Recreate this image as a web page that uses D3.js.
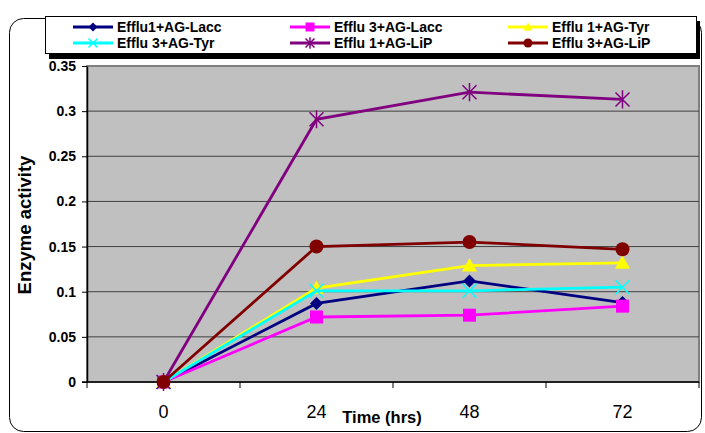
<!DOCTYPE html>
<html>
<head>
<meta charset="utf-8">
<script src="https://cdn.jsdelivr.net/npm/d3@7"></script>
<style>
  body { margin: 0; background: #fff; }
  text { font-family: "Liberation Sans", Arial, sans-serif; }
</style>
</head>
<body>
<svg width="705" height="433"></svg>
<script>
var times = ["0", "24", "48", "72"];
var yTicks = [0, 0.05, 0.1, 0.15, 0.2, 0.25, 0.3, 0.35];
var seriesNames = ["Efflu1+AG-Lacc", "Efflu 3+AG-Lacc", "Efflu 1+AG-Tyr",
                   "Efflu 3+AG-Tyr", "Efflu 1+AG-LiP", "Efflu 3+AG-LiP"];
var lacc1 = [0, 0.087, 0.112, 0.088];
var lacc3 = [0, 0.072, 0.074, 0.084];
var tyr1 = [0, 0.104, 0.129, 0.132];
var tyr3 = [0, 0.101, 0.101, 0.105];
var lip1 = [0, 0.291, 0.321, 0.313];
var lip3 = [0, 0.150, 0.155, 0.147];
var seriesValues = [lacc1, lacc3, tyr1, tyr3, lip1, lip3];
var colors = ["#000080", "#FF00FF", "#FFFF00", "#00FFFF", "#800080", "#800000"];
var markers = ["diamond", "square", "triangle", "x", "star", "circle"];

var svg = d3.select("svg");

// outer chart frame
svg.append("rect")
    .attr("x", 9.5).attr("y", 18.5)
    .attr("width", 692).attr("height", 413)
    .attr("rx", 14).attr("ry", 14)
    .attr("fill", "#fff").attr("stroke", "#000").attr("stroke-width", 1);

var x = d3.scaleBand().domain(times).range([87, 699]);
var y = d3.scaleLinear().domain([0, 0.35]).range([382, 66]);

// plot area
svg.append("rect")
    .attr("x", 87).attr("y", 66)
    .attr("width", 612).attr("height", 316)
    .attr("fill", "#C0C0C0").attr("stroke", "#808080").attr("stroke-width", 2);

svg.append("g")
    .selectAll("line")
    .data(yTicks.slice(1, -1))
    .enter().append("line")
    .attr("x1", 87).attr("x2", 699)
    .attr("y1", function(d) { return y(d); })
    .attr("y2", function(d) { return y(d); })
    .attr("stroke", "#404040").attr("stroke-width", 1);

// y axis
var yAxis = svg.append("g")
    .attr("transform", "translate(87,0)")
    .call(d3.axisLeft(y).tickValues(yTicks).tickSize(5).tickSizeOuter(0)
        .tickFormat(function(d) { return d === 0 ? "0" : String(+d.toFixed(2)); }));
yAxis.select(".domain").attr("stroke", "#000").attr("stroke-width", 1.5);
yAxis.selectAll("text")
    .attr("font-family", "Liberation Sans, Arial, sans-serif")
    .attr("font-size", 14).attr("font-weight", "bold").attr("fill", "#000")
    .attr("x", -11);

// x axis: ticks between categories
var xAxis = svg.append("g").attr("transform", "translate(0,382)");
xAxis.append("line")
    .attr("x1", 82).attr("x2", 699)
    .attr("stroke", "#000").attr("stroke-width", 1.5);
var bounds = times.map(function(t) { return x(t); }).concat([x.range()[1]]);
xAxis.selectAll(".tk")
    .data(bounds)
    .enter().append("line")
    .attr("x1", function(d) { return d; }).attr("x2", function(d) { return d; })
    .attr("y1", 0).attr("y2", 6)
    .attr("stroke", "#000").attr("stroke-width", 1);
xAxis.selectAll(".lbl")
    .data(times)
    .enter().append("text")
    .attr("x", function(d) { return x(d) + x.bandwidth() / 2; })
    .attr("y", 36)
    .attr("text-anchor", "middle")
    .attr("font-size", 18)
    .text(function(d) { return d; });

// axis titles
svg.append("text")
    .attr("transform", "translate(31,225) rotate(-90)")
    .attr("text-anchor", "middle")
    .attr("font-size", 18.5).attr("font-weight", "bold")
    .text("Enzyme activity");
svg.append("text")
    .attr("x", 382).attr("y", 423)
    .attr("text-anchor", "middle")
    .attr("font-size", 16.5).attr("font-weight", "bold")
    .text("Time (hrs)");

function drawMarker(g, type, color, cx, cy, s) {
    if (type === "diamond") {
        g.append("path").attr("d", "M" + cx + "," + (cy - s) + "L" + (cx + s) + "," + cy +
            "L" + cx + "," + (cy + s) + "L" + (cx - s) + "," + cy + "Z").attr("fill", color);
    } else if (type === "square") {
        g.append("rect").attr("x", cx - s).attr("y", cy - s)
            .attr("width", 2 * s).attr("height", 2 * s).attr("fill", color);
    } else if (type === "triangle") {
        g.append("path").attr("d", "M" + cx + "," + (cy - s) + "L" + (cx + s) + "," + (cy + s * 0.8) +
            "L" + (cx - s) + "," + (cy + s * 0.8) + "Z").attr("fill", color);
    } else if (type === "circle") {
        g.append("circle").attr("cx", cx).attr("cy", cy).attr("r", s).attr("fill", color);
    } else if (type === "x") {
        g.append("path").attr("d", "M" + (cx - s) + "," + (cy - s) + "L" + (cx + s) + "," + (cy + s) +
            "M" + (cx + s) + "," + (cy - s) + "L" + (cx - s) + "," + (cy + s))
            .attr("stroke", color).attr("stroke-width", 1.5);
    } else if (type === "star") {
        g.append("path").attr("d", "M" + (cx - s) + "," + (cy - s) + "L" + (cx + s) + "," + (cy + s) +
            "M" + (cx + s) + "," + (cy - s) + "L" + (cx - s) + "," + (cy + s) +
            "M" + cx + "," + (cy - s * 1.3) + "L" + cx + "," + (cy + s * 1.3))
            .attr("stroke", color).attr("stroke-width", 1.5);
    }
}

var line = d3.line()
    .x(function(d, i) { return x(times[i]) + x.bandwidth() / 2; })
    .y(function(d) { return y(d); });

var markerSize = [6.5, 6.5, 7.5, 7, 7, 7];
var plot = svg.append("g");
seriesValues.forEach(function(vals, k) {
    var g = plot.append("g");
    g.append("path")
        .datum(vals)
        .attr("d", line)
        .attr("fill", "none")
        .attr("stroke", colors[k])
        .attr("stroke-width", 2.8);
    vals.forEach(function(v, i) {
        drawMarker(g, markers[k], colors[k], x(times[i]) + x.bandwidth() / 2, y(v), markerSize[k]);
    });
});

// legend
var legend = svg.append("g");
legend.append("rect")
    .attr("x", 49).attr("y", 21).attr("width", 651).attr("height", 38)
    .attr("fill", "#000");
legend.append("rect")
    .attr("x", 45.5).attr("y", 16.5).attr("width", 651).attr("height", 37)
    .attr("fill", "#fff").attr("stroke", "#000").attr("stroke-width", 1);
var colX = [73, 290, 508];
var rowY = [27, 43];
seriesNames.forEach(function(name, k) {
    var lx = colX[k % 3], ly = rowY[Math.floor(k / 3)];
    var lg = legend.append("g");
    lg.append("line")
        .attr("x1", lx).attr("x2", lx + 40)
        .attr("y1", ly).attr("y2", ly)
        .attr("stroke", colors[k]).attr("stroke-width", 2.8);
    drawMarker(lg, markers[k], colors[k], lx + 20, ly, 4.5);
    lg.append("text")
        .attr("x", lx + 44).attr("y", ly + 5)
        .attr("font-size", 14).attr("font-weight", "bold")
        .text(name);
});
</script>
</body>
</html>
